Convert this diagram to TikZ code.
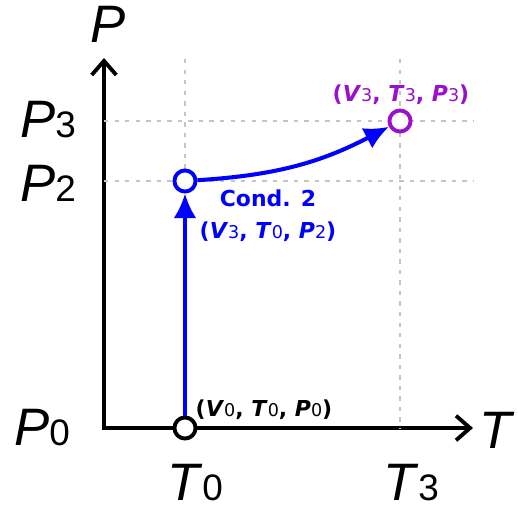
\documentclass[tikz,border=0pt]{standalone}
\usepackage{fontspec}
\setmainfont{Liberation Sans}
\newfontfamily\lblfont{DejaVu Sans}
\usetikzlibrary{arrows.meta}
\definecolor{cpblue}{HTML}{0000FF}
\definecolor{cppurple}{HTML}{9A10CC}
\definecolor{cpgrid}{HTML}{C4C4C4}

% axis quantity with a digit index
\newcommand{\axq}[2]{\textit{#1}{\fontsize{21}{21}\selectfont #2}}
% state variable with a digit index
\newcommand{\stq}[2]{\textbf{\textit{#1}}{\mdseries\fontsize{10}{10}\selectfont #2}}

\begin{document}
\begin{tikzpicture}[
  x=0.02cm,y=0.02cm,
  axlabel/.style={font=\fontsize{30}{30}\selectfont,inner sep=0pt},
  stlabel/.style={font=\lblfont\bfseries\fontsize{12.5}{18}\selectfont,
                  inner sep=0pt,align=center},
  axis/.style={line width=2.2pt,
    {Straight Barb[length=8pt,width=14pt,line width=2.2pt]}-{Straight Barb[length=8pt,width=14pt,line width=2.2pt]}},
  guide/.style={draw=cpgrid,line width=0.9pt,dash pattern=on 2.5pt off 3.5pt},
  state/.style={circle,draw=#1,line width=2.2pt,fill=white,
                minimum size=12pt,inner sep=0pt},
  flow/.style={draw=cpblue,line width=2.3pt,
    -{Latex[length=14pt,width=13pt]}},
]
\useasboundingbox (0,0) rectangle (518,512);

% axes
\coordinate (ytip) at (104,454);
\coordinate (xtip) at (473,84);
\draw[axis] (ytip) |- (xtip);

% guide lines
\draw[guide] (104,391) -- (473,391);
\draw[guide] (104,331) -- (473,331);
\draw[guide] (185,453) -- (185,84);
\draw[guide] (400,453) -- (400,84);

% axis labels
\node[axlabel] (pax) at (108,488) {\textit{P}};
\node[axlabel] (tax) at (497,82) {\textit{T}};
\node[axlabel] (p3) at (48,392) {\axq{P}{3}};
\node[axlabel] (p2) at (48,329) {\axq{P}{2}};
\node[axlabel] (p0) at (42,84) {\axq{P}{0}};
\node[axlabel] (t0) at (195,29) {\axq{T}{0}};
\node[axlabel] (t3) at (411,29) {\axq{T}{3}};

% states
\node[state=black] (s0) at (185,84) {};
\node[state=cpblue] (s2) at (185,331) {};
\node[state=cppurple] (s3) at (400,391) {};

\draw[flow] (s0) -- (s2);
\draw[flow] (s2) to[bend right=12] (s3);

% state labels
\node[stlabel] (l0) at (264,102) {(\stq{V}{0}, \stq{T}{0}, \stq{P}{0})};
\node[stlabel,text=cpblue] (l2) at (268,296)
  {Cond. 2\\(\stq{V}{3}, \stq{T}{0}, \stq{P}{2})};
\node[stlabel,text=cppurple] (l3) at (401,417)
  {(\stq{V}{3}, \stq{T}{3}, \stq{P}{3})};

\end{tikzpicture}
\end{document}
